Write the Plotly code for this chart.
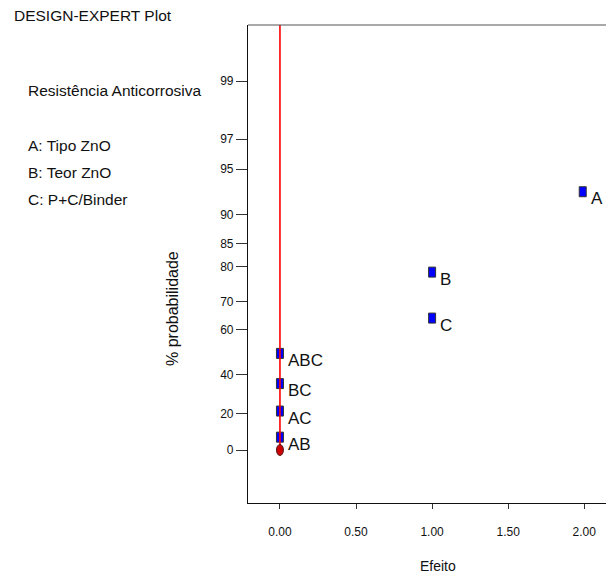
import plotly.graph_objects as go
from statistics import NormalDist

# ---- data ----
terms = ["A", "B", "C", "ABC", "BC", "AC", "AB"]
effects = [1.99, 1.0, 1.0, 0.0, 0.0, 0.0, 0.0]
half_normal_pct = [92.86, 78.57, 64.29, 50.0, 35.71, 21.43, 7.14]

error_effect = [0.0]
error_pct = [0.0]

y_tick_pct = [0, 20, 40, 60, 70, 80, 85, 90, 95, 97, 99]
x_tick_vals = [0.0, 0.5, 1.0, 1.5, 2.0]
x_tick_text = ["0.00", "0.50", "1.00", "1.50", "2.00"]

side_title = "DESIGN-EXPERT Plot"
response = "Resistência Anticorrosiva"
factors = ["A: Tipo ZnO", "B: Teor ZnO", "C: P+C/Binder"]

# ---- half-normal probability scale ----
nd = NormalDist()
def hn(p):
    return nd.inv_cdf(0.5 + p / 200.0)

W, H = 606, 578
L, T, R, B = 248, 25, 0, 75
PW, PH = W - L - R, H - T - B
XR = [-0.21, 2.143]
YR = [-0.37, 2.967]

def px(xp):
    return (xp - L) / PW
def py(yp):
    return (H - B - yp) / PH

FONT = "Liberation Sans, Arial, Helvetica, sans-serif"

fig = go.Figure()

shapes = []
# blue rectangular markers for the effects
for e, p in zip(effects, half_normal_pct):
    shapes.append(dict(type="rect", xref="x", yref="y", xsizemode="pixel", ysizemode="pixel",
                       xanchor=e, yanchor=hn(p), x0=-3.5, x1=3.5, y0=-5, y1=5,
                       fillcolor="#0000ff", line=dict(color="#333333", width=1), layer="below"))

# red reference line through the error point
fig.add_trace(go.Scatter(x=[error_effect[0], error_effect[0]], y=[hn(error_pct[0]), YR[1]],
                         mode="lines", line=dict(color="#ff0000", width=1.6),
                         hoverinfo="skip", showlegend=False))

# red error point (ellipse)
for e, p in zip(error_effect, error_pct):
    shapes.append(dict(type="circle", xref="x", yref="y", xsizemode="pixel", ysizemode="pixel",
                       xanchor=e, yanchor=hn(p), x0=-3.5, x1=3.5, y0=-5.5, y1=5.5,
                       fillcolor="#cc0000", line=dict(color="#552222", width=1), layer="above"))

# top border
shapes.append(dict(type="line", xref="paper", yref="paper", x0=0, x1=1, y0=1, y1=1,
                   line=dict(color="#555555", width=1.2)))

annotations = []
for t, e, p in zip(terms, effects, half_normal_pct):
    annotations.append(dict(x=e, y=hn(p), xref="x", yref="y", text=t, showarrow=False,
                            xanchor="left", yanchor="middle", xshift=6, yshift=-7,
                            font=dict(family=FONT, size=17, color="#111111")))

annotations.append(dict(x=px(12), y=py(16), xref="paper", yref="paper", text=side_title,
                        showarrow=False, xanchor="left", yanchor="middle",
                        font=dict(family=FONT, size=15.5, color="#111111")))
annotations.append(dict(x=px(26), y=py(90), xref="paper", yref="paper", text=response,
                        showarrow=False, xanchor="left", yanchor="middle",
                        font=dict(family=FONT, size=15.5, color="#111111")))
for i, f in enumerate(factors):
    annotations.append(dict(x=px(26), y=py(145 + 27 * i), xref="paper", yref="paper", text=f,
                            showarrow=False, xanchor="left", yanchor="middle",
                            font=dict(family=FONT, size=15.5, color="#111111")))

annotations.append(dict(x=px(172), y=py(309), xref="paper", yref="paper", text="% probabilidade",
                        showarrow=False, textangle=-90, xanchor="center", yanchor="middle",
                        font=dict(family=FONT, size=16, color="#111111")))
annotations.append(dict(x=px(438), y=py(566), xref="paper", yref="paper", text="Efeito",
                        showarrow=False, xanchor="center", yanchor="middle",
                        font=dict(family=FONT, size=14, color="#111111")))

fig.update_layout(
    width=W, height=H,
    margin=dict(l=L, r=R, t=T, b=B, pad=0),
    paper_bgcolor="white", plot_bgcolor="white",
    shapes=shapes, annotations=annotations,
    showlegend=False,
    xaxis=dict(range=XR, tickvals=x_tick_vals, ticktext=x_tick_text,
               showgrid=False, zeroline=False, showline=True, linecolor="#111111", linewidth=1.2,
               ticks="outside", ticklen=5, tickcolor="#333333", ticklabelstandoff=12,
               tickfont=dict(family=FONT, size=12, color="#111111")),
    yaxis=dict(range=YR, tickvals=[hn(p) for p in y_tick_pct], ticktext=[str(p) for p in y_tick_pct],
               showgrid=False, zeroline=False, showline=True, linecolor="#111111", linewidth=1.2,
               ticks="outside", ticklen=11, tickcolor="#333333",
               tickfont=dict(family=FONT, size=12, color="#111111")),
)

fig.write_html("out.html")
